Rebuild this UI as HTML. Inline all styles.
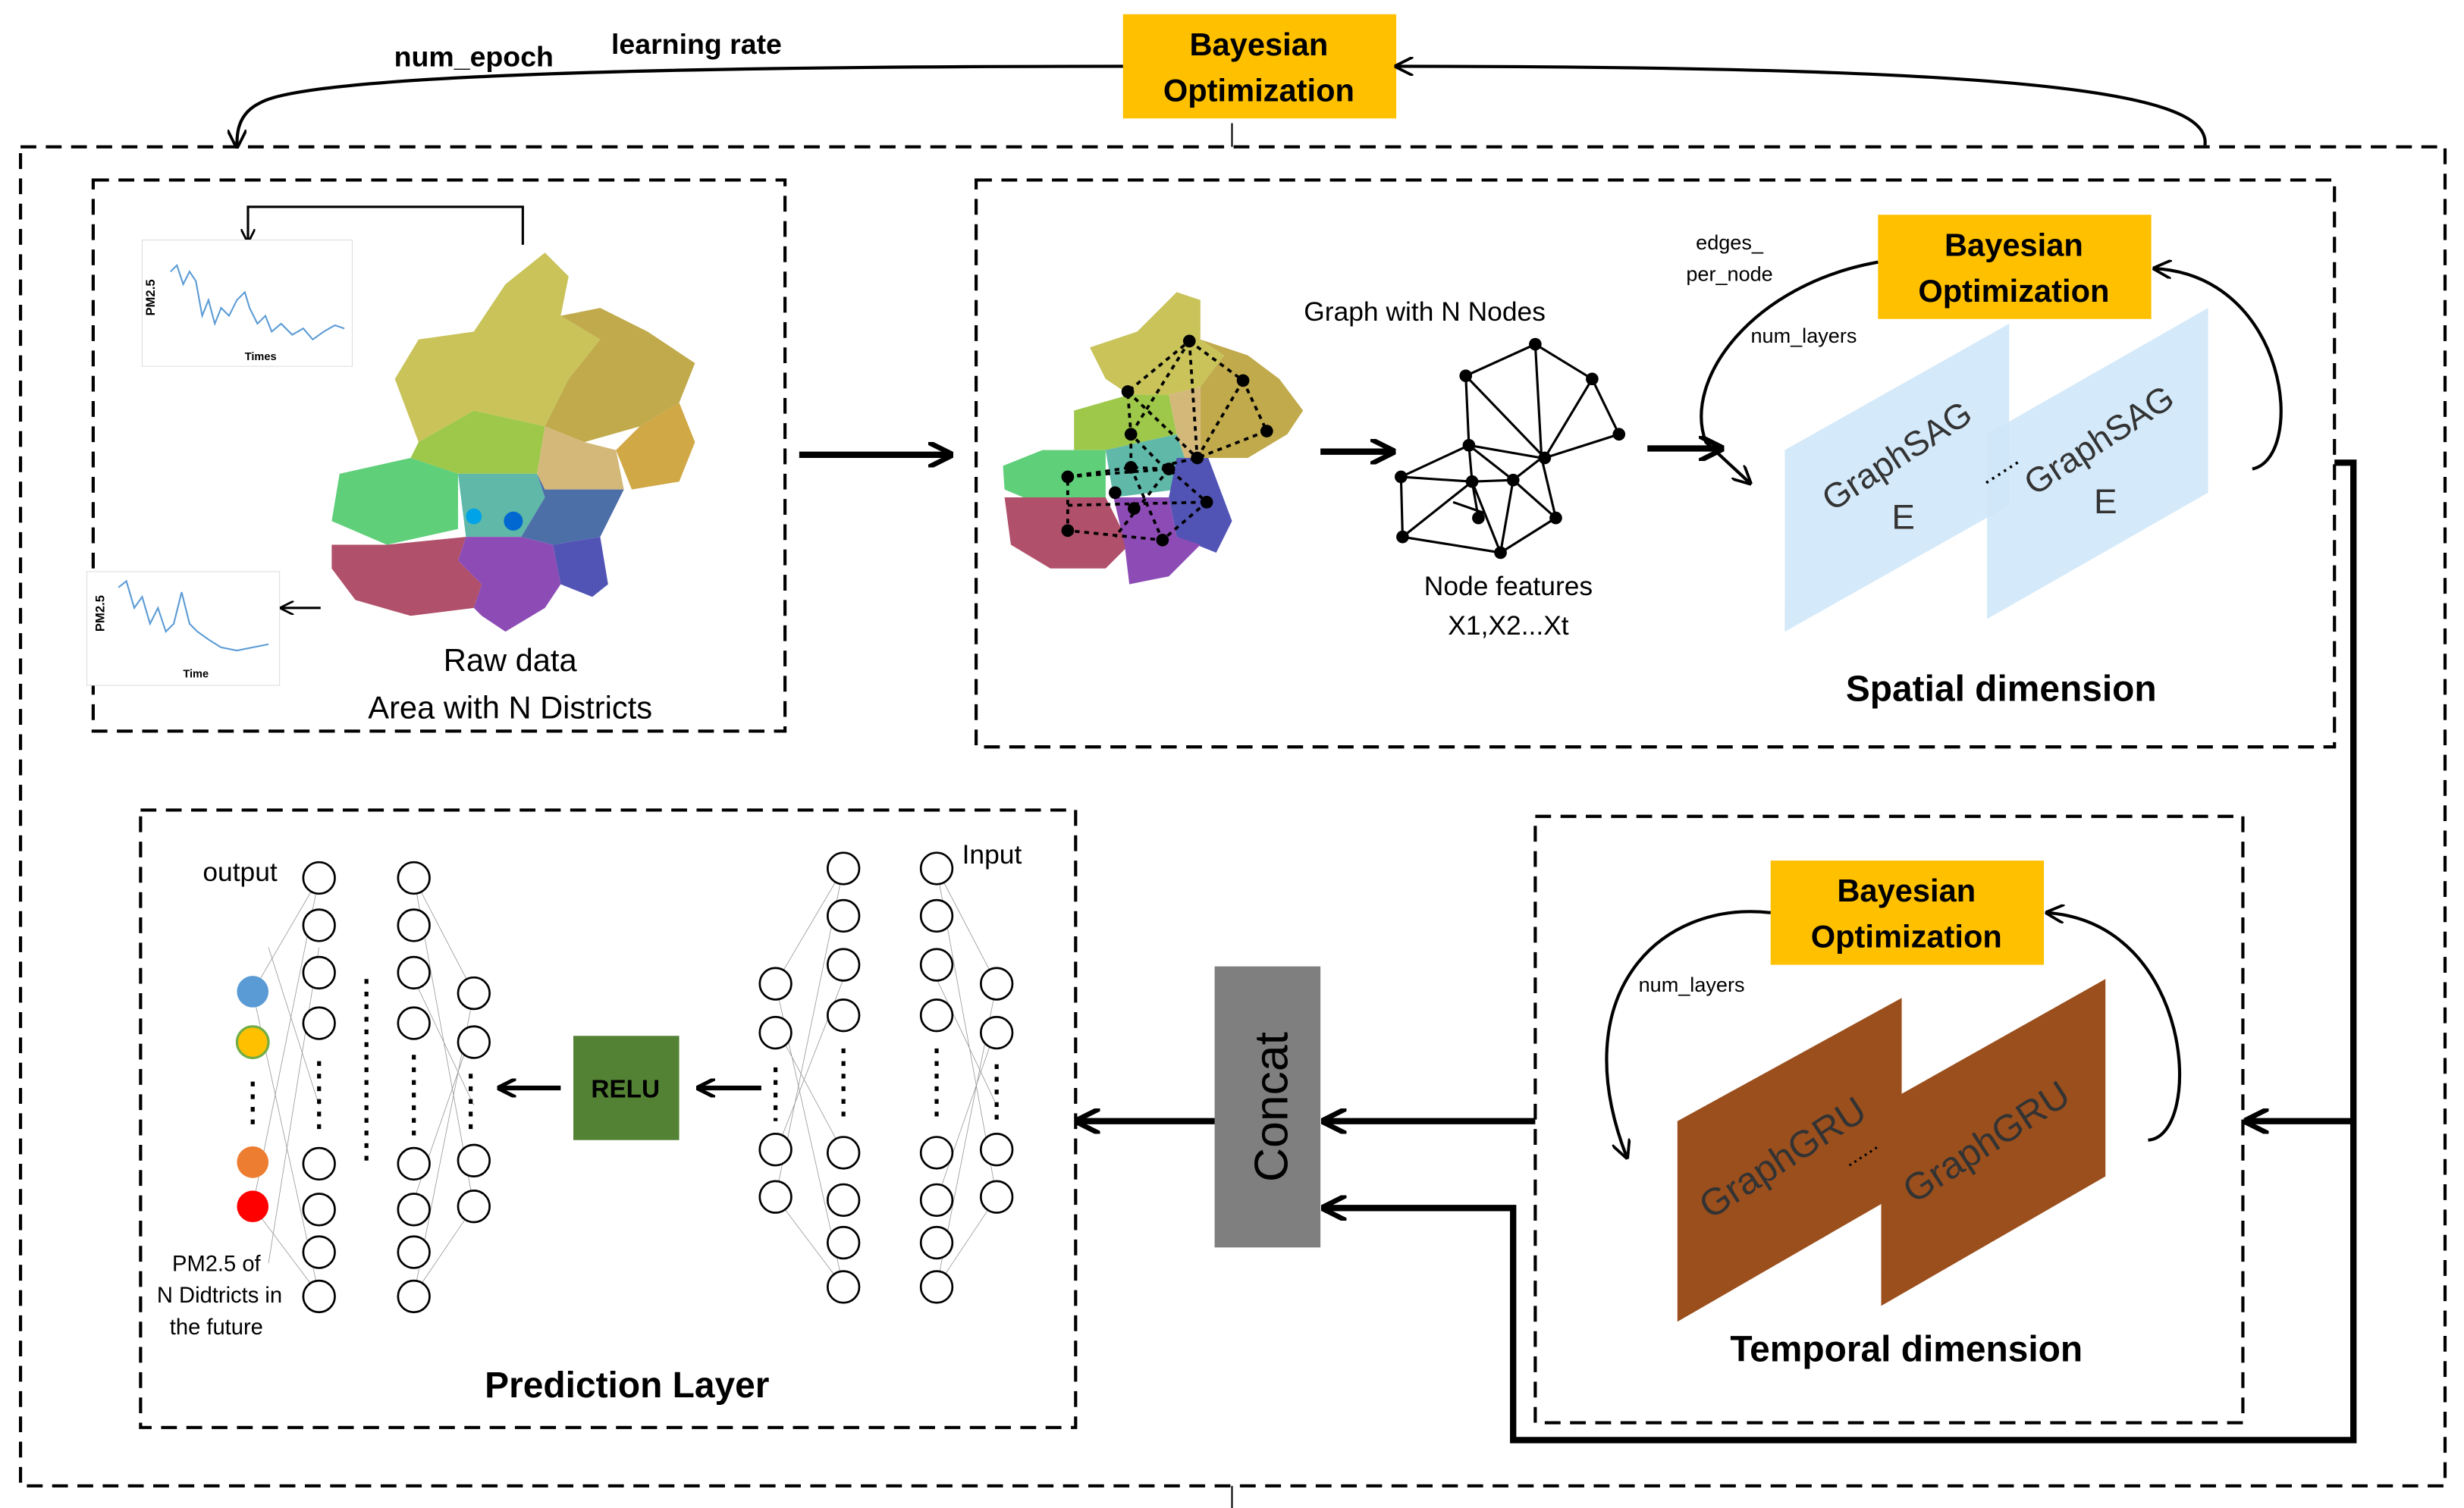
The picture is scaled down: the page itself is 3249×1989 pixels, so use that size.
<!DOCTYPE html>
<html><head><meta charset="utf-8"><style>
html,body{margin:0;padding:0;background:#fff}
svg{display:block}
text{font-family:"Liberation Sans",sans-serif}
</style></head><body>
<svg width="3249" height="1989" viewBox="0 0 1560 955" preserveAspectRatio="none" xmlns="http://www.w3.org/2000/svg">
<defs>
<marker id="ah" viewBox="0 0 10 10" refX="9" refY="5" markerWidth="6" markerHeight="6" orient="auto-start-reverse"><path d="M0,0 L10,5 L0,10" fill="none" stroke="#000" stroke-width="1.5"/></marker>
<marker id="ab" viewBox="0 0 10 10" refX="9" refY="5" markerWidth="4" markerHeight="4" orient="auto-start-reverse"><path d="M0,0 L10,5 L0,10" fill="none" stroke="#000" stroke-width="2"/></marker>
</defs>
<rect width="1560" height="955" fill="#fff"/>
<!-- outer dashed -->
<rect x="13" y="93" width="1535" height="848" fill="none" stroke="#000" stroke-width="2" stroke-dasharray="10,6"/>
<line x1="780" y1="78" x2="780" y2="93" stroke="#000"/>
<line x1="780" y1="941" x2="780" y2="955" stroke="#000"/>
<!-- top BO -->
<rect x="711" y="9" width="173" height="66" fill="#ffc000"/>
<text x="797" y="35" font-size="20" font-weight="bold" text-anchor="middle">Bayesian</text>
<text x="797" y="64" font-size="20" font-weight="bold" text-anchor="middle">Optimization</text>
<path d="M711,42 C500,42 200,45 165,65 C150,72 150,85 150,93" fill="none" stroke="#000" stroke-width="2" marker-end="url(#ah)"/>
<path d="M1396,92 C1400,60 1300,42 884,42" fill="none" stroke="#000" stroke-width="2" marker-end="url(#ah)"/>
<text x="300" y="42" font-size="18" font-weight="bold" text-anchor="middle" font-family="Liberation Serif">num_epoch</text>
<text x="441" y="34" font-size="18" font-weight="bold" text-anchor="middle" font-family="Liberation Serif">learning rate</text>

<!-- box 1 -->
<rect x="59" y="114" width="438" height="349" fill="none" stroke="#000" stroke-width="2" stroke-dasharray="10,6"/>
<path d="M331,155 L331,131 L157,131 L157,153" fill="none" stroke="#000" stroke-width="1.5" marker-end="url(#ah)"/>
<rect x="90" y="152" width="133" height="80" fill="#fff" stroke="#ddd" stroke-width="0.5"/>
<polyline points="108,172 112,168 116,180 120,172 124,178 128,200 132,190 136,205 140,195 145,200 150,190 155,185 158,195 163,205 168,200 172,210 178,205 185,212 192,208 198,215 205,210 212,206 218,208" fill="none" stroke="#5b9bd5" stroke-width="1"/>
<text x="98" y="200" font-size="8" transform="rotate(-90 98 200)" font-weight="bold">PM2.5</text>
<text x="165" y="228" font-size="7" font-weight="bold" text-anchor="middle">Times</text>
<rect x="55" y="362" width="122" height="72" fill="#fff" stroke="#ddd" stroke-width="0.5"/>
<polyline points="75,372 80,368 85,385 90,378 95,395 100,385 105,400 110,395 115,375 120,395 125,400 132,405 140,410 150,412 160,410 170,408" fill="none" stroke="#5b9bd5" stroke-width="1"/>
<text x="66" y="400" font-size="8" transform="rotate(-90 66 400)" font-weight="bold">PM2.5</text>
<text x="124" y="429" font-size="7" font-weight="bold" text-anchor="middle">Time</text>
<line x1="203" y1="385" x2="178" y2="385" stroke="#000" stroke-width="1.5" marker-end="url(#ah)"/>
<!-- map 1 -->
<g>
<polygon points="320,180 345,160 360,175 355,200 380,215 360,240 345,270 300,260 265,280 250,240 265,215 300,210" fill="#c9c35a"/>
<polygon points="355,200 380,195 410,210 440,230 430,255 405,270 370,280 345,270 360,240 380,215" fill="#c1aa4c"/>
<polygon points="405,270 430,255 440,280 430,305 400,310 390,285" fill="#d0a845"/>
<polygon points="265,280 300,260 345,270 340,300 290,300 260,290" fill="#9ec84a"/>
<polygon points="345,270 370,280 390,285 395,310 345,310 340,300" fill="#d3b87a"/>
<polygon points="215,300 260,290 290,300 290,335 245,345 210,330" fill="#5fcf7a"/>
<polygon points="290,300 340,300 345,315 330,340 295,340" fill="#5fb8a8"/>
<polygon points="340,300 345,310 395,310 380,340 350,345 330,340 345,315" fill="#4d6fa8"/>
<polygon points="350,345 380,340 385,370 375,378 355,370" fill="#5154b5"/>
<polygon points="210,345 245,345 295,340 290,355 305,370 300,385 260,390 225,380 210,360" fill="#b0506b"/>
<polygon points="295,340 330,340 350,345 355,370 345,385 320,400 305,390 300,385 305,370 290,355" fill="#8d4cb5"/>
<circle cx="300" cy="327" r="5" fill="#00a3e8"/><circle cx="325" cy="330" r="6" fill="#0068d0"/>
</g>
<text x="323" y="425" font-size="20" text-anchor="middle">Raw data</text>
<text x="323" y="455" font-size="20" text-anchor="middle">Area with N Districts</text>
<line x1="506" y1="288" x2="602" y2="288" stroke="#000" stroke-width="4" marker-end="url(#ab)"/>

<!-- box 2 spatial -->
<rect x="618" y="114" width="860" height="359" fill="none" stroke="#000" stroke-width="2" stroke-dasharray="10,6"/>
<g>
<polygon points="720,210 745,185 760,190 760,215 775,225 760,245 740,250 715,250 700,240 690,220" fill="#c9c35a"/>
<polygon points="760,215 790,225 810,240 825,260 815,275 790,290 760,290 760,245 775,225" fill="#c1aa4c"/>
<polygon points="680,260 715,250 740,250 745,275 700,285 680,285" fill="#9ec84a"/>
<polygon points="740,250 760,245 760,290 750,290 745,275" fill="#d3b87a"/>
<polygon points="635,295 660,285 700,285 700,315 660,320 636,310" fill="#5fcf7a"/>
<polygon points="700,285 745,275 750,290 745,310 705,315" fill="#5fb8a8"/>
<polygon points="745,290 765,290 780,330 770,350 745,340 740,315" fill="#5154b5"/>
<polygon points="636,315 700,315 715,345 700,360 665,360 640,345" fill="#b0506b"/>
<polygon points="705,315 740,315 745,340 760,345 740,365 715,370 712,345" fill="#8d4cb5"/>
</g>
<g stroke="#000" stroke-width="1.8" stroke-dasharray="3,3" fill="none">
<polygon points="753,216 787,241 802,273 758,290 736,295 716,275 714,248"/>
<line x1="753" y1="216" x2="758" y2="290"/><line x1="714" y1="248" x2="758" y2="290"/><line x1="787" y1="241" x2="758" y2="290"/><line x1="753" y1="216" x2="716" y2="275"/>
<polygon points="676,302 716,296 740,297 764,318 736,342 676,336"/>
<line x1="676" y1="302" x2="740" y2="297"/><line x1="676" y1="320" x2="764" y2="318"/><line x1="716" y1="296" x2="736" y2="342"/><line x1="740" y1="297" x2="706" y2="340"/><line x1="716" y1="275" x2="716" y2="296"/><line x1="736" y1="295" x2="740" y2="297"/>
</g>
<g fill="#000">
<circle cx="753" cy="216" r="4"/><circle cx="787" cy="241" r="4"/><circle cx="802" cy="273" r="4"/><circle cx="758" cy="290" r="4"/><circle cx="714" cy="248" r="4"/><circle cx="716" cy="275" r="4"/><circle cx="676" cy="302" r="4"/><circle cx="716" cy="296" r="4"/><circle cx="740" cy="297" r="4"/><circle cx="764" cy="318" r="4"/><circle cx="736" cy="342" r="4"/><circle cx="676" cy="336" r="4"/><circle cx="706" cy="312" r="4"/><circle cx="718" cy="322" r="4"/>
</g>
<line x1="836" y1="286" x2="882" y2="286" stroke="#000" stroke-width="4" marker-end="url(#ab)"/>
<text x="902" y="203" font-size="17" text-anchor="middle">Graph with N Nodes</text>
<g stroke="#000" stroke-width="1.5" fill="none">
<polyline points="928,238 972,218 1008,240 1025,275 978,290 928,238 930,282 976,290 972,218"/>
<line x1="1008" y1="240" x2="978" y2="290"/>
<polyline points="930,282 887,302 888,340 950,350 985,328 976,290 958,304 930,282"/>
<line x1="930" y1="282" x2="932" y2="305"/><line x1="887" y1="302" x2="932" y2="305"/><line x1="932" y1="305" x2="958" y2="304"/><line x1="932" y1="305" x2="950" y2="350"/><line x1="888" y1="340" x2="932" y2="305"/><line x1="958" y1="304" x2="950" y2="350"/><line x1="958" y1="304" x2="985" y2="328"/><line x1="920" y1="318" x2="940" y2="325"/><line x1="932" y1="305" x2="936" y2="328"/>
</g>
<g fill="#000">
<circle cx="928" cy="238" r="4"/><circle cx="972" cy="218" r="4"/><circle cx="1008" cy="240" r="4"/><circle cx="1025" cy="275" r="4"/><circle cx="978" cy="290" r="4"/><circle cx="930" cy="282" r="4"/><circle cx="887" cy="302" r="4"/><circle cx="888" cy="340" r="4"/><circle cx="950" cy="350" r="4"/><circle cx="985" cy="328" r="4"/><circle cx="958" cy="304" r="4"/><circle cx="932" cy="305" r="4"/><circle cx="936" cy="328" r="4"/>
</g>
<text x="955" y="377" font-size="17" text-anchor="middle">Node features</text>
<text x="955" y="402" font-size="17" text-anchor="middle">X1,X2...Xt</text>
<line x1="1043" y1="284" x2="1090" y2="284" stroke="#000" stroke-width="4" marker-end="url(#ab)"/>
<rect x="1189" y="136" width="173" height="66" fill="#ffc000"/>
<text x="1275" y="162" font-size="20" font-weight="bold" text-anchor="middle">Bayesian</text>
<text x="1275" y="191" font-size="20" font-weight="bold" text-anchor="middle">Optimization</text>
<text x="1095" y="158" font-size="13" text-anchor="middle">edges_</text>
<text x="1095" y="178" font-size="13" text-anchor="middle">per_node</text>
<text x="1142" y="217" font-size="13" text-anchor="middle">num_layers</text>
<path d="M1189,166 C1110,180 1065,240 1080,280 L1108,306" fill="none" stroke="#000" stroke-width="2" marker-end="url(#ah)"/>
<path d="M1426,297 C1460,290 1450,175 1364,170" fill="none" stroke="#000" stroke-width="2" marker-end="url(#ah)"/>
<polygon points="1130,285 1272,205 1272,320 1130,400" fill="#cfe7f8" opacity="0.9"/>
<polygon points="1258,275 1398,195 1398,312 1258,392" fill="#cfe7f8" opacity="0.9"/>
<text x="1205" y="295" font-size="22" fill="#333" text-anchor="middle" transform="rotate(-33 1205 295)">GraphSAG</text>
<text x="1205" y="335" font-size="22" fill="#333" text-anchor="middle">E</text>
<text x="1333" y="285" font-size="22" fill="#333" text-anchor="middle" transform="rotate(-33 1333 285)">GraphSAG</text>
<text x="1333" y="325" font-size="22" fill="#333" text-anchor="middle">E</text>
<text x="1268" y="300" font-size="16" text-anchor="middle" transform="rotate(-33 1268 300)">......</text>
<text x="1267" y="444" font-size="23" font-weight="bold" text-anchor="middle">Spatial dimension</text>

<!-- right loop -->
<polyline points="1478,293 1490,293 1490,912 958,912 958,765 838,765" fill="none" stroke="#000" stroke-width="4" marker-end="url(#ab)"/>
<line x1="1490" y1="710" x2="1422" y2="710" stroke="#000" stroke-width="4" marker-end="url(#ab)"/>

<!-- temporal -->
<rect x="972" y="517" width="448" height="384" fill="none" stroke="#000" stroke-width="2" stroke-dasharray="10,6"/>
<rect x="1121" y="545" width="173" height="66" fill="#ffc000"/>
<text x="1207" y="571" font-size="20" font-weight="bold" text-anchor="middle">Bayesian</text>
<text x="1207" y="600" font-size="20" font-weight="bold" text-anchor="middle">Optimization</text>
<text x="1071" y="628" font-size="13" text-anchor="middle">num_layers</text>
<path d="M1121,578 C1050,570 990,630 1030,733" fill="none" stroke="#000" stroke-width="2" marker-end="url(#ah)"/>
<path d="M1360,722 C1395,720 1390,585 1296,578" fill="none" stroke="#000" stroke-width="2" marker-end="url(#ah)"/>
<polygon points="1062,710 1204,632 1204,755 1062,837" fill="#9a4f1d"/>
<polygon points="1191,700 1333,620 1333,745 1191,827" fill="#9a4f1d"/>
<text x="1133" y="740" font-size="24" fill="#333" text-anchor="middle" transform="rotate(-33 1133 740)">GraphGRU</text>
<text x="1262" y="730" font-size="24" fill="#333" text-anchor="middle" transform="rotate(-33 1262 730)">GraphGRU</text>
<text x="1180" y="733" font-size="14" text-anchor="middle" transform="rotate(-33 1180 733)">......</text>
<text x="1207" y="862" font-size="23" font-weight="bold" text-anchor="middle">Temporal dimension</text>
<line x1="972" y1="710" x2="838" y2="710" stroke="#000" stroke-width="4" marker-end="url(#ab)"/>

<!-- concat -->
<rect x="769" y="612" width="67" height="178" fill="#7f7f7f"/>
<text x="815" y="701" font-size="30" text-anchor="middle" transform="rotate(-90 815 701)">Concat</text>
<line x1="769" y1="710" x2="682" y2="710" stroke="#000" stroke-width="4" marker-end="url(#ab)"/>

<!-- prediction -->
<rect x="89" y="513" width="592" height="391" fill="none" stroke="#000" stroke-width="2" stroke-dasharray="10,6"/>
<g stroke="#999" stroke-width="0.4">
<path d="M160,628 L202,556 M160,628 L202,820 M160,764 L202,556 M160,764 L202,820 M170,600 L202,700 M170,800 L202,600"/>
<path d="M262,556 L300,629 M262,820 L300,629 M262,556 L300,764 M262,820 L300,764 M262,620 L300,700 M262,760 L300,650"/>
<path d="M491,623 L534,550 M491,623 L534,815 M491,758 L534,550 M491,758 L534,815 M491,650 L534,730 M491,730 L534,620"/>
<path d="M593,550 L631,623 M593,815 L631,623 M593,550 L631,758 M593,815 L631,758 M593,620 L631,700 M593,760 L631,650"/>
</g>
<g fill="#fff" stroke="#000" stroke-width="1.3">
<circle cx="202" cy="556" r="10"/><circle cx="202" cy="586" r="10"/><circle cx="202" cy="616" r="10"/><circle cx="202" cy="648" r="10"/><circle cx="202" cy="737" r="10"/><circle cx="202" cy="766" r="10"/><circle cx="202" cy="793" r="10"/><circle cx="202" cy="821" r="10"/>
<circle cx="262" cy="556" r="10"/><circle cx="262" cy="586" r="10"/><circle cx="262" cy="616" r="10"/><circle cx="262" cy="648" r="10"/><circle cx="262" cy="737" r="10"/><circle cx="262" cy="766" r="10"/><circle cx="262" cy="793" r="10"/><circle cx="262" cy="821" r="10"/>
<circle cx="300" cy="629" r="10"/><circle cx="300" cy="660" r="10"/><circle cx="300" cy="735" r="10"/><circle cx="300" cy="764" r="10"/>
<circle cx="491" cy="623" r="10"/><circle cx="491" cy="654" r="10"/><circle cx="491" cy="728" r="10"/><circle cx="491" cy="758" r="10"/>
<circle cx="534" cy="550" r="10"/><circle cx="534" cy="580" r="10"/><circle cx="534" cy="611" r="10"/><circle cx="534" cy="643" r="10"/><circle cx="534" cy="730" r="10"/><circle cx="534" cy="760" r="10"/><circle cx="534" cy="787" r="10"/><circle cx="534" cy="815" r="10"/>
<circle cx="593" cy="550" r="10"/><circle cx="593" cy="580" r="10"/><circle cx="593" cy="611" r="10"/><circle cx="593" cy="643" r="10"/><circle cx="593" cy="730" r="10"/><circle cx="593" cy="760" r="10"/><circle cx="593" cy="787" r="10"/><circle cx="593" cy="815" r="10"/>
<circle cx="631" cy="623" r="10"/><circle cx="631" cy="654" r="10"/><circle cx="631" cy="728" r="10"/><circle cx="631" cy="758" r="10"/>
</g>
<circle cx="160" cy="628" r="10" fill="#5b9bd5"/><circle cx="160" cy="660" r="10" fill="#ffc000" stroke="#70ad47" stroke-width="1.5"/><circle cx="160" cy="736" r="10" fill="#ed7d31"/><circle cx="160" cy="764" r="10" fill="#ff0000"/>
<g stroke="#000" stroke-width="2.5" stroke-dasharray="3,5">
<line x1="160" y1="685" x2="160" y2="715"/><line x1="202" y1="672" x2="202" y2="720"/><line x1="232" y1="620" x2="232" y2="740"/><line x1="262" y1="668" x2="262" y2="720"/><line x1="298" y1="680" x2="298" y2="715"/>
<line x1="491" y1="676" x2="491" y2="710"/><line x1="534" y1="664" x2="534" y2="712"/><line x1="593" y1="664" x2="593" y2="712"/><line x1="631" y1="674" x2="631" y2="710"/>
</g>
<text x="152" y="558" font-size="17" text-anchor="middle">output</text>
<text x="628" y="547" font-size="17" text-anchor="middle">Input</text>
<text x="137" y="805" font-size="14" text-anchor="middle">PM2.5 of</text>
<text x="139" y="825" font-size="14" text-anchor="middle">N Didtricts in</text>
<text x="137" y="845" font-size="14" text-anchor="middle">the future</text>
<rect x="363" y="656" width="67" height="66" fill="#548235"/>
<text x="396" y="695" font-size="16" font-weight="bold" text-anchor="middle">RELU</text>
<line x1="355" y1="689" x2="316" y2="689" stroke="#000" stroke-width="3" marker-end="url(#ab)"/>
<line x1="482" y1="689" x2="442" y2="689" stroke="#000" stroke-width="3" marker-end="url(#ab)"/>
<text x="397" y="885" font-size="23" font-weight="bold" text-anchor="middle">Prediction Layer</text>
</svg>
</body></html>
